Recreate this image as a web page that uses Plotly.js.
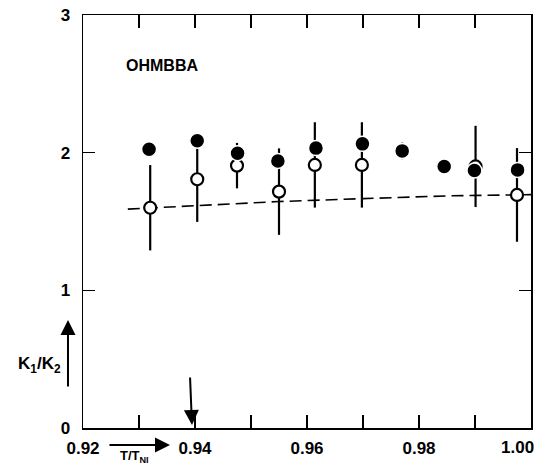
<!DOCTYPE html>
<html>
<head>
<meta charset="utf-8">
<script src="https://cdn.plot.ly/plotly-3.0.1.min.js"></script>
<style>html,body{margin:0;padding:0;background:#fff;}#chart{width:546px;height:468px;}</style>
</head>
<body>
<div id="chart"></div>
<script>
// Filled circles
const filledT = [0.9318, 0.9404, 0.9476, 0.9548, 0.9616, 0.9699, 0.9770, 0.9845, 0.9899, 0.9976];
const filledK = [2.025, 2.086, 1.996, 1.940, 2.033, 2.064, 2.013, 1.899, 1.870, 1.875];
const filledErr = [0, 0, 0, 0, 0, 0, 0.06, 0, 0, 0];
// Open circles
const openT = [0.9320, 0.9404, 0.9475, 0.9550, 0.9614, 0.9698, 0.9901, 0.9975];
const openK = [1.600, 1.807, 1.906, 1.717, 1.911, 1.911, 1.900, 1.693];
const openErr = [0.31, 0.31, 0.165, 0.314, 0.31, 0.31, 0.295, 0.34];
// Dashed theoretical curve
const curveT = [0.928, 0.940, 0.955, 0.970, 0.985, 1.000];
const curveK = [1.590, 1.616, 1.645, 1.666, 1.686, 1.695];
// Tick labels (the last one, 1.00, is placed as an annotation so it is not cut at the edge)
const xTickVals = [0.92, 0.93, 0.94, 0.95, 0.96, 0.97, 0.98, 0.99, 1.00];
const xTickText = ["0.92", "", "0.94", "", "0.96", "", "0.98", "", ""];
const xLastLabel = "1.00";
const yTickVals = [0, 1, 2, 3];
const yTickText = ["0", "1", "2", "3"];

const FONT = "Liberation Sans, Arial, sans-serif";

const traces = [
  {x: curveT, y: curveK, mode: "lines", line: {color: "#000", width: 1.6, dash: "12px,6px"}, hoverinfo: "skip"},
  {x: openT, y: openK, mode: "markers",
   marker: {size: 12, color: "#fff", line: {color: "#000", width: 2.2}},
   error_y: {type: "data", array: openErr, visible: true, color: "#000", thickness: 2.2, width: 0}},
  {x: filledT, y: filledK, mode: "markers",
   marker: {size: 15, color: "#000", line: {color: "#fff", width: 1.5}},
   error_y: {type: "data", array: filledErr, visible: true, color: "#000", thickness: 2.2, width: 0}}
];

const arrowCommon = {showarrow: true, text: "", axref: "pixel", ayref: "pixel", arrowhead: 2, arrowsize: 1.5, arrowwidth: 2, arrowcolor: "#000", xref: "paper", yref: "paper"};
const txt = (x, y, text, size) => ({x: x, y: y, xref: "paper", yref: "paper", text: text, showarrow: false,
  xanchor: "center", yanchor: "middle", font: {family: FONT, size: size, color: "#000", weight: "bold"}});

const layout = {
  width: 546, height: 468,
  margin: {l: 83, r: 15, t: 15, b: 40},
  paper_bgcolor: "#fff", plot_bgcolor: "#fff",
  showlegend: false,
  font: {family: FONT, color: "#000"},
  xaxis: {
    range: [0.92, 1.00], tickmode: "array", tickvals: xTickVals, ticktext: xTickText,
    ticks: "inside", ticklen: 13, tickwidth: 1.5, tickcolor: "#000",
    showline: true, linewidth: 1.5, linecolor: "#000", mirror: "ticks",
    showgrid: false, zeroline: false,
    tickfont: {family: FONT, size: 17, color: "#000", weight: "bold"},
    ticklabelstandoff: 4
  },
  yaxis: {
    range: [0, 3], tickmode: "array", tickvals: yTickVals, ticktext: yTickText,
    ticks: "inside", ticklen: 12, tickwidth: 1.5, tickcolor: "#000",
    showline: true, linewidth: 1.5, linecolor: "#000", mirror: "ticks",
    showgrid: false, zeroline: false,
    tickfont: {family: FONT, size: 17, color: "#000", weight: "bold"},
    ticklabelstandoff: 8
  },
  annotations: [
    {x: 0.93411, y: 2.631, xref: "x", yref: "y", text: "OHMBBA", showarrow: false,
     font: {family: FONT, size: 16, color: "#000", weight: "bold"}},
    txt(0.96875, -0.0484, xLastLabel, 17),
    txt(-0.096, 0.152, "K<sub>1</sub>/K<sub>2</sub>", 17),
    txt(0.116, -0.0700, "T/T<sub>NI</sub>", 13),
    Object.assign({}, arrowCommon, {x: -0.0335, y: 0.2615, ax: 0, ay: 68}),
    Object.assign({}, arrowCommon, {x: 0.1942, y: -0.0412, ax: -62, ay: 0}),
    Object.assign({}, arrowCommon, {x: 0.2433, y: 0.00726, ax: -2, ay: -49})
  ]
};

Plotly.newPlot("chart", traces, layout, {displayModeBar: false, staticPlot: true});
</script>
</body>
</html>
